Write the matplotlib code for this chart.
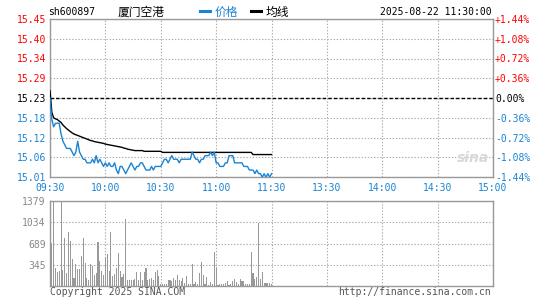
import matplotlib
matplotlib.use('Agg')
import matplotlib.pyplot as plt

W, H = 545, 300

# ========== Data ==========
prev_close = 15.23
code = 'sh600897'
name = '厦门空港'
stamp = '2025-08-22 11:30:00'

# one value per minute from 09:30 to 11:30
price = [15.23, 15.17, 15.15, 15.16, 15.16, 15.16, 15.13, 15.11, 15.10, 15.09,
         15.09, 15.09, 15.08, 15.07, 15.08, 15.11, 15.08, 15.07, 15.06, 15.06,
         15.05, 15.05, 15.05, 15.06, 15.05, 15.07, 15.05, 15.06, 15.05, 15.04,
         15.05, 15.04, 15.05, 15.04, 15.04, 15.05, 15.03, 15.02, 15.04, 15.04,
         15.03, 15.02, 15.03, 15.04, 15.05, 15.04, 15.03, 15.04, 15.04, 15.05,
         15.05, 15.04, 15.03, 15.03, 15.03, 15.04, 15.03, 15.04, 15.04, 15.04,
         15.04, 15.05, 15.06, 15.06, 15.05, 15.06, 15.07, 15.06, 15.06, 15.06,
         15.05, 15.06, 15.06, 15.06, 15.06, 15.06, 15.06, 15.08, 15.07, 15.06,
         15.06, 15.05, 15.06, 15.06, 15.07, 15.07, 15.07, 15.08, 15.07, 15.08,
         15.05, 15.05, 15.04, 15.04, 15.04, 15.05, 15.05, 15.07, 15.07, 15.07,
         15.05, 15.05, 15.05, 15.05, 15.05, 15.04, 15.04, 15.04, 15.03, 15.03,
         15.03, 15.02, 15.03, 15.02, 15.02, 15.01, 15.02, 15.01, 15.02, 15.01,
         15.02]

avg_price = [15.250, 15.190, 15.175, 15.172, 15.170, 15.166, 15.162, 15.155, 15.150, 15.145,
             15.141, 15.137, 15.133, 15.130, 15.128, 15.126, 15.124, 15.122, 15.120, 15.118,
             15.116, 15.114, 15.112, 15.111, 15.109, 15.108, 15.107, 15.106, 15.105, 15.104,
             15.102, 15.101, 15.100, 15.099, 15.098, 15.097, 15.096, 15.095, 15.094, 15.093,
             15.091, 15.090, 15.088, 15.087, 15.086, 15.085, 15.084, 15.084, 15.084, 15.084,
             15.084, 15.082, 15.082, 15.082, 15.082, 15.082, 15.082, 15.082, 15.082, 15.082,
             15.082, 15.079, 15.079, 15.079, 15.079, 15.079, 15.079, 15.079, 15.079, 15.079,
             15.079, 15.079, 15.079, 15.079, 15.079, 15.079, 15.079, 15.079, 15.079, 15.079,
             15.079, 15.079, 15.079, 15.079, 15.079, 15.079, 15.079, 15.079, 15.079, 15.079,
             15.079, 15.079, 15.079, 15.079, 15.079, 15.079, 15.079, 15.079, 15.079, 15.079,
             15.079, 15.079, 15.079, 15.079, 15.079, 15.079, 15.079, 15.079, 15.079, 15.079,
             15.073, 15.073, 15.073, 15.073, 15.073, 15.073, 15.073, 15.073, 15.073, 15.073,
             15.073]

volume = [256, 692, 1379, 300, 229, 240, 1379, 256, 785, 213,
          883, 730, 436, 136, 354, 278, 273, 485, 779, 376,
          136, 104, 354, 332, 180, 218, 714, 403, 245, 174,
          469, 518, 240, 883, 169, 191, 300, 540, 240, 142,
          202, 1085, 104, 93, 100, 100, 110, 223, 100, 223,
          100, 223, 300, 100, 110, 136, 90, 223, 256, 170,
          30, 30, 35, 40, 93, 100, 80, 136, 93, 174,
          100, 80, 125, 50, 158, 40, 30, 354, 40, 66,
          30, 210, 395, 175, 30, 148, 20, 66, 25, 547,
          284, 15, 30, 25, 30, 55, 88, 15, 25, 80,
          120, 66, 25, 120, 80, 80, 25, 25, 30, 547,
          208, 120, 148, 1015, 120, 230, 55, 45, 45, 45,
          30]

time_labels = ['09:30', '10:00', '10:30', '11:00', '11:30', '13:30', '14:00', '14:30', '15:00']
price_labels = ['15.01', '15.06', '15.12', '15.18', '15.23', '15.29', '15.34', '15.40', '15.45']
pct_labels = ['-1.44%', '-1.08%', '-0.72%', '-0.36%', '0.00%', '+0.36%', '+0.72%', '+1.08%', '+1.44%']
vol_ticks = [345, 689, 1034, 1379]
vol_labels = ['345', '689', '1034', '1379']

# ========== Style ==========
RED = '#ff0000'
BLUE = '#1a84d4'
GREY = '#999999'
GRID = '#aaaaaa'
MONO = 'DejaVu Sans Mono'
CJK = ['Noto Sans CJK SC', 'DejaVu Sans']
FS = 7

plt.rcParams['font.family'] = MONO


def px_rect(left, top, right, bottom):
    return [left / W, 1 - bottom / H, (right - left) / W, (bottom - top) / H]


def fx(x):
    return x / W


def fy(y):
    return 1 - y / H


def style_axes(ax):
    for s in ax.spines.values():
        s.set_color(GREY)
        s.set_linewidth(1.0)
    ax.tick_params(length=0)
    ax.grid(True, color=GRID, linestyle=(0, (1.2, 1.6)), linewidth=0.8)
    ax.set_axisbelow(True)


fig = plt.figure(figsize=(W / 100, H / 100), dpi=100)
fig.patch.set_facecolor('white')

# ========== Price panel ==========
ax = fig.add_axes(px_rect(50, 19, 493, 177))
style_axes(ax)
minutes = list(range(len(price)))
lo, hi = prev_close * (1 - 0.0144), prev_close * (1 + 0.0144)
step = (hi - lo) / 8
yt = [lo + k * step for k in range(9)]
ax.set_xlim(0, 240)
ax.set_ylim(lo, hi)
ax.set_xticks(range(0, 241, 30))
ax.set_xticklabels(time_labels, fontsize=FS, color=BLUE)
ax.set_yticks(yt)
ax.set_yticklabels(price_labels, fontsize=FS)
ax.tick_params(axis='y', pad=3)
ax.tick_params(axis='x', pad=4)
for i, lab in enumerate(ax.get_yticklabels()):
    lab.set_color(BLUE if i < 4 else ('black' if i == 4 else RED))

ax.axhline(prev_close, color='black', linestyle=(0, (2.5, 1.5)), linewidth=1.0, zorder=2)
ax.plot(minutes, avg_price, color='black', linewidth=1.0, zorder=3)
ax.plot(minutes, price, color=BLUE, linewidth=1.0, zorder=4)

ax2 = ax.twinx()
ax2.set_ylim(lo, hi)
ax2.set_yticks(yt)
ax2.set_yticklabels(pct_labels, fontsize=FS)
ax2.tick_params(length=0, pad=1.5)
for s in ax2.spines.values():
    s.set_visible(False)
for i, lab in enumerate(ax2.get_yticklabels()):
    lab.set_color(BLUE if i < 4 else ('black' if i == 4 else RED))

ax.text(0.955, 0.12, 'sina', transform=ax.transAxes, fontsize=10, fontstyle='italic',
        fontweight='bold', color='#d8d8d8', family='DejaVu Sans', ha='center', va='center')

# ========== Volume panel ==========
axv = fig.add_axes(px_rect(50, 201, 493, 286))
style_axes(axv)
axv.bar(minutes, volume, width=0.6, color=GREY, linewidth=0, antialiased=False)
axv.set_xlim(0, 240)
axv.set_ylim(0, 1379)
axv.set_xticks(range(0, 241, 30))
axv.set_xticklabels([])
axv.set_yticks(vol_ticks)
axv.set_yticklabels(vol_labels, fontsize=FS, color='#888888')
axv.tick_params(axis='y', pad=3)

# ========== Header / footer ==========
fig.text(fx(48), fy(12), code, fontsize=FS, color='black', va='center')
fig.text(fx(118), fy(12), name, fontsize=8.5, family=CJK, color='black', va='center')
fig.add_artist(plt.Line2D([fx(200), fx(210)], [fy(11), fy(11)], color=BLUE, linewidth=2.2))
fig.text(fx(215), fy(12), '价格', fontsize=8.5, family=CJK, color=BLUE, va='center')
fig.add_artist(plt.Line2D([fx(251), fx(261)], [fy(11), fy(11)], color='black', linewidth=2.2))
fig.text(fx(266), fy(12), '均线', fontsize=8.5, family=CJK, color='black', va='center')
fig.text(fx(492), fy(12), stamp, fontsize=FS, color='black', va='center', ha='right')

fig.text(fx(50), fy(292), 'Copyright 2025 SINA.COM', fontsize=FS, color='#555555', va='center')
fig.text(fx(491), fy(292), 'http://finance.sina.com.cn', fontsize=FS, color='#555555',
         va='center', ha='right')

fig.savefig('out.png', dpi=100)
